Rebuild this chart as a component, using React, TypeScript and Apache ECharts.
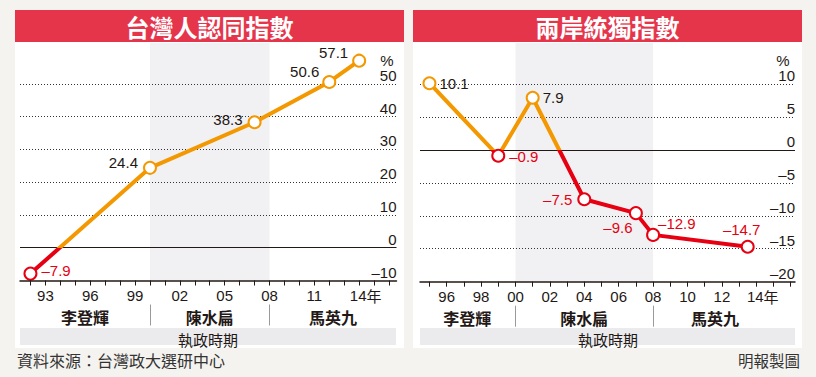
import React, { useEffect, useRef } from "react";
import * as echarts from "echarts";

// ---- data ----
const leftYears = [1992, 2000, 2007, 2012, 2014];
const leftValues = [-7.9, 24.4, 38.3, 50.6, 57.1];
const rightYears = [1995, 1999, 2001, 2004, 2007, 2008, 2013.5];
const rightValues = [10.1, -0.9, 7.9, -7.5, -9.6, -12.9, -14.7];

const leftTickYears = [1992, 1993, 1994, 1995, 1996, 1997, 1998, 1999, 2000, 2001, 2002, 2003, 2004, 2005, 2006, 2007, 2008, 2009, 2010, 2011, 2012, 2013, 2014, 2015, 2016];
const leftLabelYears = [1993, 1996, 1999, 2002, 2005, 2008, 2011, 2014];
const rightTickYears = [1995, 1996, 1997, 1998, 1999, 2000, 2001, 2002, 2003, 2004, 2005, 2006, 2007, 2008, 2009, 2010, 2011, 2012, 2013, 2014, 2015, 2016];
const rightLabelYears = [1996, 1998, 2000, 2002, 2004, 2006, 2008, 2010, 2012, 2014];

const leftYTicks = [-10, 0, 10, 20, 30, 40, 50];
const leftGridValues = [10, 20, 30, 40, 50];
const rightYTicks = [-20, -15, -10, -5, 0, 5, 10];
const rightGridValues = [-15, -10, -5, 5, 10];

const presidents = ["李登輝", "陳水扁", "馬英九"];
const eraBounds = [2000, 2008];
const leftEraLabelYears = [1995.65, 2004, 2012.25];
const rightEraLabelYears = [1997.2, 2004, 2011.6];

const titles = ["台灣人認同指數", "兩岸統獨指數"];

// label placement (style only)
const leftLabelStyle = [
  { position: "right", distance: 4, offset: [0, -3] },
  { position: "left", distance: 5, offset: [0, -5] },
  { position: "left", distance: 5, offset: [0, -3] },
  { position: "left", distance: 5, offset: [2, -10] },
  { position: "left", distance: 5, offset: [1, -8] },
];
const rightLabelStyle = [
  { position: "right", distance: 3, offset: [0, 0] },
  { position: "right", distance: 4, offset: [0, 1] },
  { position: "right", distance: 3, offset: [0, 0] },
  { position: "left", distance: 5, offset: [0, 0] },
  { position: "bottom", distance: 4, offset: [-18, -4] },
  { position: "right", distance: 0, offset: [-2, -11] },
  { position: "top", distance: 3, offset: [-6, 0] },
];

const RED = "#e60012";
const ORANGE = "#f39800";
const TITLE_RED = "#e5354b";
const TEXT = "#231815";
const BAND = "#f1f1f3";
const NUM_FONT = '"Liberation Sans", Arial, "Noto Sans CJK TC", sans-serif';
const CJK_FONT = '"Noto Sans CJK TC", "Noto Sans CJK SC", sans-serif';

const fmt = (v: number) => (v < 0 ? "\u2013" + Math.abs(v) : String(v));
const yearLabel = (last: number) => (v: number) => {
  const s = String(Math.round(v) % 100).padStart(2, "0");
  return Math.round(v) === last ? `{p|年}{n|${s}}{u|年}` : s;
};

function mainX(gridIndex: number, min: number, max: number, ticks: number[], labels: number[]) {
  return {
    type: "value",
    gridIndex,
    min,
    max,
    z: 6,
    position: "bottom",
    axisLine: { show: true, onZero: false, lineStyle: { color: TEXT, width: 1.5 } },
    axisTick: { show: true, customValues: ticks, length: 5, lineStyle: { color: TEXT, width: 1 } },
    axisLabel: {
      customValues: labels,
      showMinLabel: true,
      showMaxLabel: true,
      hideOverlap: false,
      formatter: yearLabel(labels[labels.length - 1]),
      fontSize: 15,
      lineHeight: 15,
      color: TEXT,
      fontFamily: NUM_FONT,
      margin: 7,
      rich: {
        p: { fontSize: 13, lineHeight: 15, color: "rgba(0,0,0,0)", fontFamily: CJK_FONT },
        n: { fontSize: 15, lineHeight: 15, color: TEXT, fontFamily: NUM_FONT },
        u: { fontSize: 15, lineHeight: 15, color: TEXT, fontFamily: CJK_FONT },
      },
    },
    splitLine: { show: false },
  };
}

function eraX(gridIndex: number, min: number, max: number, labelYears: number[]) {
  return {
    type: "value",
    gridIndex,
    min,
    max,
    z: 6,
    position: "bottom",
    offset: 24,
    axisLine: { show: false, onZero: false },
    axisTick: { show: true, customValues: eraBounds, length: 21, lineStyle: { color: "#9a9a9a", width: 1 } },
    axisLabel: {
      customValues: labelYears,
      showMinLabel: true,
      showMaxLabel: true,
      hideOverlap: false,
      formatter: (v: number) => presidents[labelYears.indexOf(v)] ?? "",
      fontSize: 16,
      lineHeight: 16,
      fontWeight: "bold",
      color: TEXT,
      fontFamily: CJK_FONT,
      margin: 4,
    },
    splitLine: { show: false },
  };
}

function yAx(gridIndex: number, min: number, max: number, interval: number, labels: number[]) {
  return {
    type: "value",
    gridIndex,
    position: "right",
    min,
    max,
    interval,
    z: 6,
    axisLine: { show: false },
    axisTick: { show: false },
    splitLine: { show: false },
    axisLabel: {
      customValues: labels,
      showMinLabel: true,
      inside: true,
      margin: 0,
      verticalAlign: "bottom",
      padding: [0, 0, 1, 0],
      fontSize: 15,
      color: TEXT,
      fontFamily: NUM_FONT,
      formatter: (v: number) => fmt(v),
    },
  };
}

function dataSeries(xi: number, yi: number, xs: number[], ys: number[], labelStyles: any[], gridValues: number[]) {
  return {
    type: "line",
    xAxisIndex: xi,
    yAxisIndex: yi,
    z: 5,
    symbol: "emptyCircle",
    symbolSize: 12,
    lineStyle: { width: 4, color: ORANGE },
    label: {
      show: true,
      fontSize: 15,
      fontFamily: NUM_FONT,
      formatter: (p: any) => fmt(p.value[1]),
    },
    data: xs.map((x, i) => ({
      value: [x, ys[i]],
      itemStyle: { color: ys[i] < 0 ? RED : ORANGE, borderWidth: 3 },
      label: { ...labelStyles[i], color: ys[i] < 0 ? RED : TEXT },
    })),
    markArea: {
      silent: true,
      itemStyle: { color: BAND },
      data: [[{ xAxis: eraBounds[0] }, { xAxis: eraBounds[1] }]],
    },
    markLine: {
      silent: true,
      symbol: "none",
      label: { show: false },
      data: [
        ...gridValues.map((v) => ({ yAxis: v, lineStyle: { type: [1, 2], color: "#333", width: 1 } })),
        { yAxis: 0, lineStyle: { type: "solid", color: TEXT, width: 1.2 } },
      ],
    },
  };
}

function signGradient(zeroPx: number) {
  return new echarts.graphic.LinearGradient(
    0,
    zeroPx - 0.5,
    0,
    zeroPx + 0.5,
    [
      { offset: 0, color: ORANGE },
      { offset: 0.5, color: ORANGE },
      { offset: 0.5, color: RED },
      { offset: 1, color: RED },
    ],
    true
  );
}

export default function App() {
  const ref = useRef<HTMLDivElement>(null);
  useEffect(() => {
    if (!ref.current) return;
    const chart = echarts.init(ref.current, null, { renderer: "svg" });
    const panel = (x: number, w: number, title: string) => [
      { type: "rect", z: -1, shape: { x, y: 10, width: w, height: 338 }, style: { fill: "#ffffff" } },
      { type: "rect", z: -1, shape: { x, y: 10, width: w, height: 32 }, style: { fill: TITLE_RED } },
      {
        type: "text",
        z: 10,
        x: x + w / 2,
        y: 26.5,
        style: { text: title, fill: "#fff", font: `bold 24px ${CJK_FONT}`, textAlign: "center", textVerticalAlign: "middle" },
      },
    ];
    const ruleBar = (x: number, w: number, cx: number) => [
      { type: "rect", z: -1, shape: { x, y: 328, width: w, height: 17 }, style: { fill: "#ebebed" } },
      {
        type: "text",
        z: 10,
        x: cx,
        y: 339,
        style: { text: "執政時期", fill: TEXT, font: `15px ${CJK_FONT}`, textAlign: "center", textVerticalAlign: "middle" },
      },
    ];
    const pct = (x: number) => ({
      type: "text",
      z: 10,
      x,
      y: 60,
      style: { text: "%", fill: TEXT, font: `15px ${NUM_FONT}`, textAlign: "center", textVerticalAlign: "middle" },
    });
    chart.setOption({
      animation: false,
      backgroundColor: "#f5f3ef",
      grid: [
        { left: 20, right: 419.5, top: 43, bottom: 96.5 },
        { left: 420, right: 21, top: 43, bottom: 95.3 },
      ],
      xAxis: [
        mainX(0, 1991.3, 2016.5, leftTickYears, leftLabelYears),
        eraX(0, 1991.3, 2016.5, leftEraLabelYears),
        mainX(1, 1994.45, 2016.25, rightTickYears, rightLabelYears),
        eraX(1, 1994.45, 2016.25, rightEraLabelYears),
      ],
      yAxis: [yAx(0, -10, 62.5, 10, leftYTicks), yAx(1, -20, 16.2, 5, rightYTicks)],
      series: [
        dataSeries(0, 0, leftYears, leftValues, leftLabelStyle, leftGridValues),
        dataSeries(2, 1, rightYears, rightValues, rightLabelStyle, rightGridValues),
      ],
      graphic: [
        ...panel(15, 389, titles[0]),
        ...panel(413, 389, titles[1]),
        ...ruleBar(20, 376, 208),
        ...ruleBar(420, 375, 608),
        pct(387),
        pct(783),
        {
          type: "text",
          z: 10,
          x: 17,
          y: 360,
          style: { text: "資料來源：台灣政大選研中心", fill: "#333", font: `16px ${CJK_FONT}`, textVerticalAlign: "middle" },
        },
        {
          type: "text",
          z: 10,
          x: 800,
          y: 360,
          style: { text: "明報製圖", fill: "#333", font: `15.5px ${CJK_FONT}`, textAlign: "right", textVerticalAlign: "middle" },
        },
      ],
    });
    const z0 = chart.convertToPixel({ yAxisIndex: 0 }, 0) as number;
    const z1 = chart.convertToPixel({ yAxisIndex: 1 }, 0) as number;
    chart.setOption({
      series: [{ lineStyle: { color: signGradient(z0) } }, { lineStyle: { color: signGradient(z1) } }],
    });
    return () => chart.dispose();
  }, []);
  return <div ref={ref} style={{ position: "absolute", left: 0, top: 0, width: 816, height: 377 }} />;
}
